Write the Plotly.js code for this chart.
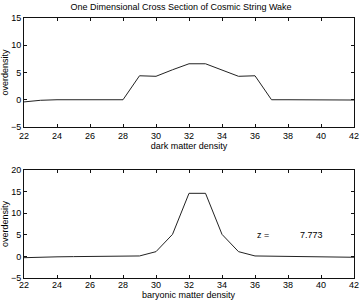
<!DOCTYPE html>
<html><head><meta charset="utf-8">
<script src="https://cdn.plot.ly/plotly-3.0.1.min.js"></script>
<style>html,body{margin:0;padding:0;background:#fff}#plot{width:362px;height:301px}</style>
</head><body><div id="plot"></div>
<script>
var xPos = [22,23,24,25,26,27,28,29,30,31,32,33,34,35,36,37,38,39,40,41,42];
var darkMatter = [-0.4,-0.1,0,0,0,0,0,4.4,4.3,5.5,6.6,6.6,5.5,4.3,4.4,0,0,0,0,0,-0.05];
var baryonic = [-0.3,-0.15,-0.1,-0.05,0,0,0,0.1,1.1,5.1,14.6,14.6,5.1,1.1,0.1,0.05,0,0,-0.1,-0.15,-0.2];
var xTicks = [22,24,26,28,30,32,34,36,38,40,42];
var yTicksTop = [-5,0,5,10,15];
var yTicksBottom = [-5,0,5,10,15,20];
var zLabel = "z =";
var zValue = "7.773";
var bottomXTitle = "baryonic matter density";

var font = {family:"Liberation Sans, Arial, sans-serif", size:9, color:"#000"};
var axBase = {showline:true, linecolor:"#111", linewidth:1, mirror:"ticks", ticks:"inside", ticklen:3,
  tickcolor:"#111", showgrid:false, zeroline:false, tickfont:font};

var traces = [
  {x:xPos, y:darkMatter, xaxis:"x", yaxis:"y", mode:"lines", line:{color:"#222", width:1}, hoverinfo:"none"},
  {x:xPos, y:baryonic, xaxis:"x2", yaxis:"y2", mode:"lines", line:{color:"#222", width:1}, hoverinfo:"none"}
];
var layout = {
  width:362, height:301, showlegend:false,
  margin:{l:24, r:8, t:18, b:23},
  paper_bgcolor:"#fff", plot_bgcolor:"#fff", font:font,
  title:{text:"One Dimensional Cross Section of Cosmic String Wake", font:font, x:0.5, xanchor:"center", y:0.978, yanchor:"middle"},
  xaxis:Object.assign({}, axBase, {domain:[0,1], range:[22,42], tickvals:xTicks, anchor:"y",
    title:{text:"dark matter density", font:font, standoff:0}}),
  yaxis:Object.assign({}, axBase, {domain:[0.5808,1], range:[-5,15], tickvals:yTicksTop, anchor:"x",
    title:{text:"overdensity", font:font, standoff:2}}),
  xaxis2:Object.assign({}, axBase, {domain:[0,1], range:[22,42], tickvals:xTicks, anchor:"y2", ticklabelstandoff:-2}),
  yaxis2:Object.assign({}, axBase, {domain:[0,0.4154], range:[-5,20], tickvals:yTicksBottom, anchor:"x2",
    title:{text:"overdensity", font:font, standoff:2}}),
  annotations:[
    {xref:"x2", yref:"y2", x:36, y:5, text:zLabel, showarrow:false, xanchor:"left", font:font},
    {xref:"x2", yref:"y2", x:38.6, y:5, text:zValue, showarrow:false, xanchor:"left", font:font},
    {xref:"paper", yref:"paper", x:0.5, y:-23/260, yanchor:"bottom", xanchor:"center", yshift:0,
     text:bottomXTitle, showarrow:false, font:font, borderpad:0}
  ]
};
Plotly.newPlot("plot", traces, layout, {displayModeBar:false, staticPlot:true});
</script></body></html>
